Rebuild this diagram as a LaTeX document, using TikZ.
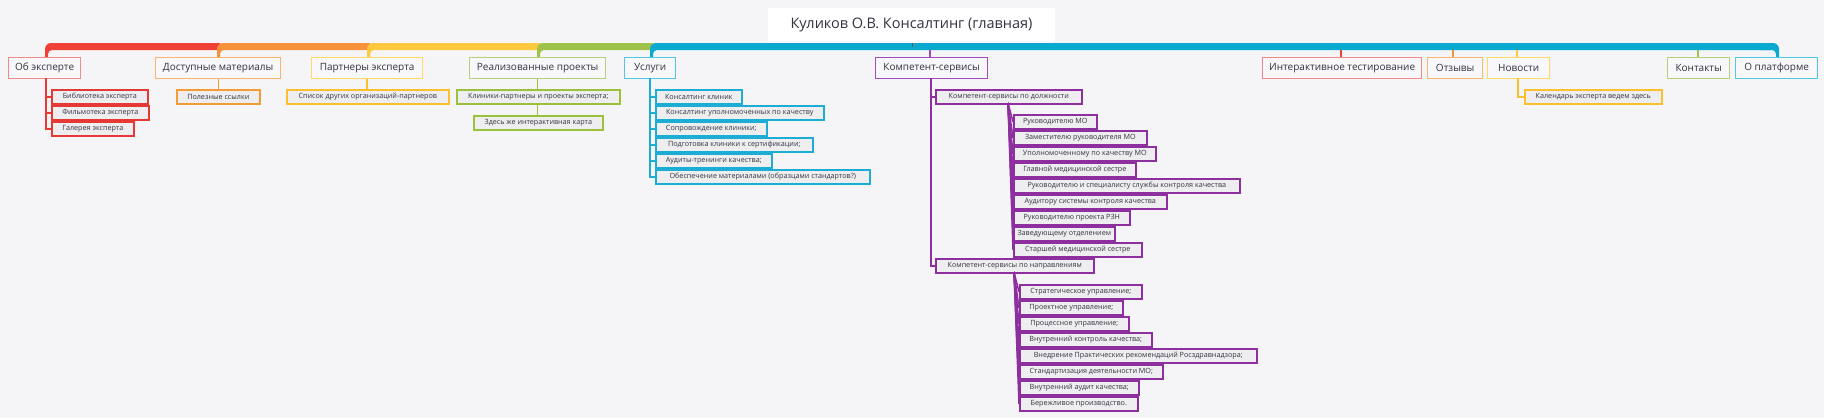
\documentclass[tikz,border=0pt]{standalone}
\usepackage{fontspec}
\setmainfont{Open Sans}
\definecolor{bg}{HTML}{F5F5F8}
\definecolor{txt}{HTML}{33333F}
\definecolor{kidfill}{HTML}{EEEEF1}
\definecolor{topfill}{HTML}{F8F8FA}
\definecolor{bred}{HTML}{EF4136}\definecolor{bora}{HTML}{F7923A}\definecolor{byel}{HTML}{FFC83D}
\definecolor{bgrn}{HTML}{9FC24A}\definecolor{bblu}{HTML}{0AAAD0}
\definecolor{lred}{HTML}{F28A85}\definecolor{lora}{HTML}{F9B46E}\definecolor{lyel}{HTML}{FFD966}
\definecolor{lgrn}{HTML}{B5CF7A}\definecolor{lblu}{HTML}{4FC8E6}\definecolor{lpur}{HTML}{A24BB8}
\definecolor{kred}{HTML}{E53935}\definecolor{kora}{HTML}{F39C33}\definecolor{kyel}{HTML}{FBC02D}
\definecolor{kgrn}{HTML}{9BC13C}\definecolor{kblu}{HTML}{1BADD4}\definecolor{kpur}{HTML}{8E2FA0}
\newcommand\kidbox[6]{\node[kid=#2, minimum width={#5-#3}] (#1) at (#3,#4) {#6};}
\newcommand\topbox[6]{\node[topn=#2, minimum width={#5-#3}] (#1) at (#3,#4) {#6};}
\newcommand\barseg[3]{\fill[#1] (#2,57) [rounded corners=6]-- (#2,43) [sharp corners]-- (#3,43) -- (#3,50) -- (#2+9,50) [rounded corners=4]-- (#2+3,50) [sharp corners]-- (#2+3,57) -- cycle;}
\begin{document}
\begin{tikzpicture}[x=1pt,y=-1pt,
  kid/.style={draw=#1, fill=kidfill, line width=1.6pt, anchor=north west, inner sep=0pt, minimum height=14pt, font=\fontsize{7.2}{8}\selectfont, text=txt},
  topn/.style={draw=#1, fill=topfill, line width=1.3pt, anchor=north west, inner sep=0pt, minimum height=21pt, font=\fontsize{10}{12}\selectfont, text=txt},
  conn/.style={line width=1.5pt}]
\useasboundingbox (0,0) rectangle (1824,418);
\fill[bg] (0,0) rectangle (1824,418);
% bar
\barseg{bred}{45}{220}
\barseg{bora}{217}{370}
\barseg{byel}{367}{540}
\barseg{bgrn}{537}{653}
\barseg{bblu}{650}{1770}
\fill[bblu] (1760,43) [rounded corners=6]-- (1779,43) [sharp corners]-- (1779,57) -- (1776,57) [rounded corners=4]-- (1776,50) [sharp corners]-- (1760,50) -- cycle;
\node[fill=white, minimum width=287pt, minimum height=34pt, inner sep=0pt, font=\fontsize{14.5}{16}\selectfont, text=txt] (title) at (911.5,25) {Куликов О.В. Консалтинг (главная)};
\draw[gray!70!black, line width=1pt] (912,43) -- (912,47);
% ticks
\foreach \x/\c in {930/lpur,1341/bred,1453/bora,1517/byel,1698/bgrn} \draw[\c, line width=1.5pt] (\x,50) -- (\x,57);
% top nodes
\topbox{t1}{lred}{8}{57}{80}{Об эксперте}
\topbox{t2}{lora}{155}{57}{280}{Доступные материалы}
\topbox{t3}{lyel}{311}{57}{422}{Партнеры эксперта}
\topbox{t4}{lgrn}{469}{57}{605}{Реализованные проекты}
\topbox{t5}{lblu}{624}{57}{675}{Услуги}
\topbox{t6}{lpur}{875}{57}{987}{Компетент-сервисы}
\topbox{t7}{lred}{1262}{57}{1421}{Интерактивное тестирование}
\topbox{t8}{lora}{1427}{57}{1482}{Отзывы}
\topbox{t9}{lyel}{1487}{57}{1549}{Новости}
\topbox{t10}{lgrn}{1667}{57}{1729}{Контакты}
\topbox{t11}{lblu}{1735}{57}{1817}{О платформе}
% Об эксперте
\kidbox{a1}{kred}{51}{89}{147}{Библиотека эксперта}
\kidbox{a2}{kred}{51}{105}{148}{Фильмотека эксперта}
\kidbox{a3}{kred}{51}{121}{133}{Галерея эксперта}
\coordinate (aS) at (46,78);
\foreach \k in {a1,a2,a3} \draw[kred, conn] (aS) |- (\k.west);
% Доступные
\kidbox{b1}{kora}{176}{89}{259}{Полезные ссылки}
\draw[kora, conn] (t2.south -| b1.north) -- (b1.north);
% Партнеры
\kidbox{c1}{kyel}{286}{89}{448}{Список других организаций-партнеров}
\draw[kyel, conn] (t3.south) -- (t3.south |- c1.north);
% Реализованные
\kidbox{d1}{kgrn}{456}{89}{619}{Клиники-партнеры и проекты эксперта;}
\kidbox{d2}{kgrn}{473}{115}{602}{Здесь же интерактивная карта}
\draw[kgrn, conn] (t4.south) -- (t4.south |- d1.north);
\draw[kgrn, conn] (d1.south -| t4.south) -- (d2.north -| t4.south);
% Услуги
\kidbox{e1}{kblu}{655}{89}{741}{Консалтинг клиник}
\kidbox{e2}{kblu}{655}{105}{823}{Консалтинг уполномоченных по качеству}
\kidbox{e3}{kblu}{655}{121}{766}{Сопровождение клиники;}
\kidbox{e4}{kblu}{655}{137}{812}{Подготовка клиники к сертификации;}
\kidbox{e5}{kblu}{655}{153}{771}{Аудиты-тренинги качества;}
\kidbox{e6}{kblu}{655}{169}{869}{Обеспечение материалами (образцами стандартов?)}
\coordinate (eS) at (650,78);
\foreach \k in {e1,e2,e3,e4,e5,e6} \draw[kblu, conn] (eS) |- (\k.west);
% Компетент
\kidbox{f1}{kpur}{935}{89}{1081}{Компетент-сервисы по должности}
\kidbox{f2}{kpur}{935}{258}{1093}{Компетент-сервисы по направлениям}
\coordinate (fS) at (931,78);
\foreach \k in {f1,f2} \draw[kpur, conn] (fS) |- (\k.west);
\kidbox{g1}{kpur}{1013}{114}{1096}{Руководителю МО}
\kidbox{g2}{kpur}{1013}{130}{1146}{Заместителю руководителя МО}
\kidbox{g3}{kpur}{1013}{146}{1155}{Уполномоченному по качеству МО}
\kidbox{g4}{kpur}{1013}{162}{1135}{Главной медицинской сестре}
\kidbox{g5}{kpur}{1013}{178}{1239}{Руководителю и специалисту службы контроля качества}
\kidbox{g6}{kpur}{1013}{194}{1166}{Аудитору системы контроля качества}
\kidbox{g7}{kpur}{1013}{210}{1129}{Руководителю проекта РЗН}
\kidbox{g8}{kpur}{1013}{226}{1114}{Заведующему отделением}
\kidbox{g9}{kpur}{1013}{242}{1141}{Старшей медицинской сестре}
\coordinate (gS) at (1008,103);
\foreach \k in {g1,g2,g3,g4,g5,g6,g7,g8,g9} \draw[kpur, conn] (gS) -- (\k.west);
\kidbox{h1}{kpur}{1019}{284}{1141}{Стратегическое управление;}
\kidbox{h2}{kpur}{1019}{300}{1122}{Проектное управление;}
\kidbox{h3}{kpur}{1019}{316}{1128}{Процессное управление;}
\kidbox{h4}{kpur}{1019}{332}{1151}{Внутренний контроль качества;}
\kidbox{h5}{kpur}{1019}{348}{1256}{Внедрение Практических рекомендаций Росздравнадзора;}
\kidbox{h6}{kpur}{1019}{364}{1162}{Стандартизация деятельности МО;}
\kidbox{h7}{kpur}{1019}{380}{1138}{Внутренний аудит качества;}
\kidbox{h8}{kpur}{1019}{396}{1137}{Бережливое производство.}
\coordinate (hS) at (1014,272);
\foreach \k in {h1,h2,h3,h4,h5,h6,h7,h8} \draw[kpur, conn] (hS) -- (\k.west);
% Новости
\kidbox{n1}{kyel}{1524}{89}{1661}{Календарь эксперта ведем здесь}
\coordinate (nS) at (1518,78);
\draw[kyel, conn] (nS) |- (n1.west);
\end{tikzpicture}
\end{document}
